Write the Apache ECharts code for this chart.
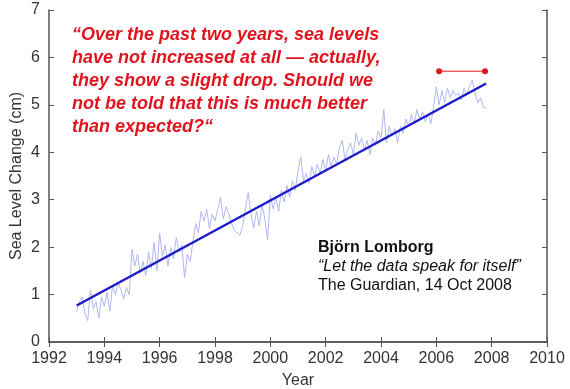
<!DOCTYPE html>
<html><head><meta charset="utf-8">
<script src="https://cdn.jsdelivr.net/npm/echarts@6/dist/echarts.min.js"></script>
<style>html,body{margin:0;padding:0;background:#fff}#c{width:570px;height:389px}</style>
</head><body><div id="c"></div>
<script>
const xTicks = [1992, 1994, 1996, 1998, 2000, 2002, 2004, 2006, 2008, 2010];
const yTicks = [0, 1, 2, 3, 4, 5, 6, 7];
const years = [1993.0,1993.1,1993.2,1993.3,1993.4,1993.5,1993.6,1993.7,1993.8,1993.9,
1994.0,1994.1,1994.2,1994.3,1994.4,1994.5,1994.6,1994.7,1994.8,1994.9,
1995.0,1995.1,1995.2,1995.3,1995.4,1995.5,1995.6,1995.7,1995.8,1995.9,
1996.0,1996.1,1996.2,1996.3,1996.4,1996.5,1996.6,1996.7,1996.8,1996.9,
1997.0,1997.1,1997.2,1997.3,1997.4,1997.5,1997.6,1997.7,1997.8,1997.9,
1998.0,1998.1,1998.2,1998.3,1998.4,1998.5,1998.6,1998.7,1998.8,1998.9,
1999.0,1999.1,1999.2,1999.3,1999.4,1999.5,1999.6,1999.7,1999.8,1999.9,
2000.0,2000.1,2000.2,2000.3,2000.4,2000.5,2000.6,2000.7,2000.8,2000.9,
2001.0,2001.1,2001.2,2001.3,2001.4,2001.5,2001.6,2001.7,2001.8,2001.9,
2002.0,2002.1,2002.2,2002.3,2002.4,2002.5,2002.6,2002.7,2002.8,2002.9,
2003.0,2003.1,2003.2,2003.3,2003.4,2003.5,2003.6,2003.7,2003.8,2003.9,
2004.0,2004.1,2004.2,2004.3,2004.4,2004.5,2004.6,2004.7,2004.8,2004.9,
2005.0,2005.1,2005.2,2005.3,2005.4,2005.5,2005.6,2005.7,2005.8,2005.9,
2006.0,2006.1,2006.2,2006.3,2006.4,2006.5,2006.6,2006.7,2006.8,2006.9,
2007.0,2007.1,2007.2,2007.3,2007.4,2007.5,2007.6,2007.7,2007.8];
const seaLevel = [0.64,0.85,0.95,0.60,0.45,1.10,0.70,0.85,0.50,0.95,
0.75,1.05,0.65,1.20,1.00,1.25,1.10,0.90,1.15,1.00,
1.95,1.60,1.85,1.45,1.70,1.40,1.90,1.55,2.10,1.50,
2.30,1.80,2.05,1.60,2.00,1.75,2.20,1.90,2.05,1.35,
1.85,1.70,2.10,2.50,2.30,2.75,2.55,2.80,2.40,2.70,
2.55,2.80,3.05,2.60,2.85,2.70,2.50,2.35,2.30,2.25,
2.45,2.80,3.15,2.70,2.40,2.75,2.45,2.90,2.60,2.15,
3.10,2.80,3.05,2.75,3.20,2.95,3.30,3.05,3.40,3.20,
3.60,3.90,3.40,3.55,3.35,3.70,3.50,3.75,3.55,3.85,
3.60,3.95,3.70,3.90,3.75,4.10,4.25,3.85,4.05,4.20,
3.95,4.40,4.15,4.30,4.05,4.25,3.95,4.30,4.15,4.45,
4.30,4.90,4.20,4.55,4.35,4.50,4.20,4.55,4.40,4.70,
4.55,4.80,4.60,4.90,4.70,4.85,4.65,4.80,4.60,4.95,
5.38,5.00,5.30,5.05,5.35,5.15,5.30,5.20,5.25,5.10,
5.35,5.20,5.40,5.52,5.25,5.04,5.15,4.95,4.93];
const trendYears = [1993.0, 2007.8];
const trendValues = [0.77, 5.45];
const flatYears = [2006.1, 2007.76];
const flatValues = [5.71, 5.71];

const chart = echarts.init(document.getElementById('c'));
const axisCol = '#555';
const FF = '"Liberation Sans", Arial, sans-serif';
const lbl = {color:'#333', fontSize:16, fontFamily:FF};
const zip = (a,b)=>a.map((v,i)=>[v,b[i]]);
chart.setOption({
  animation:false,
  grid:{left:49, top:10, right:23, bottom:47, containLabel:false, outerBoundsMode:'none'},
  xAxis:[{type:'value', min:xTicks[0], max:xTicks[xTicks.length-1], interval:2,
    name:'Year', nameLocation:'middle', nameGap:31, nameTextStyle:{color:'#333',fontSize:16,fontFamily:FF},
    axisLine:{lineStyle:{color:axisCol,width:1.5}}, axisTick:{inside:true,length:5,lineStyle:{color:axisCol}},
    axisLabel:Object.assign({margin:9, formatter:v=>String(v)}, lbl), splitLine:{show:false}},
   {type:'value', position:'top', min:xTicks[0], max:xTicks[xTicks.length-1], interval:2,
    axisLine:{lineStyle:{color:axisCol,width:1.5}}, axisTick:{inside:true,length:5,lineStyle:{color:axisCol}},
    axisLabel:{show:false}, splitLine:{show:false}}],
  yAxis:[{type:'value', min:yTicks[0], max:yTicks[yTicks.length-1], interval:1,
    name:'Sea Level Change (cm)', nameLocation:'middle', nameGap:24, nameMoveOverlap:false, nameTextStyle:{color:'#333',fontSize:16,fontFamily:FF},
    axisLine:{show:true,lineStyle:{color:axisCol,width:1.5}}, axisTick:{show:true,inside:true,length:5,lineStyle:{color:axisCol}},
    axisLabel:Object.assign({margin:9}, lbl), splitLine:{show:false}},
   {type:'value', position:'right', min:yTicks[0], max:yTicks[yTicks.length-1], interval:1,
    axisLine:{show:true,lineStyle:{color:axisCol,width:1.5}}, axisTick:{show:true,inside:true,length:5,lineStyle:{color:axisCol}},
    axisLabel:{show:false}, splitLine:{show:false}}],
  series:[
    {type:'line', data:zip(years,seaLevel), showSymbol:false, lineStyle:{color:'#b0b6f2',width:1}, z:1},
    {type:'line', data:zip(trendYears,trendValues), showSymbol:false, lineStyle:{color:'#1c1cc8',width:2.5}, z:2},
    {type:'line', data:zip(flatYears,flatValues), symbol:'circle', symbolSize:6, itemStyle:{color:'#e01818'}, lineStyle:{color:'#e01818',width:1}, z:3}
  ],
  graphic:[
    {type:'text', left:72, top:24, style:{text:'“Over the past two years, sea levels\nhave not increased at all — actually,\nthey show a slight drop. Should we\nnot be told that this is much better\nthan expected?“',
      fill:'#e0141e', font:'italic bold 18px '+FF, lineHeight:23}},
    {type:'text', x:318, y:248, style:{text:'Björn Lomborg', fill:'#111', font:'bold 16px '+FF, verticalAlign:'middle'}},
    {type:'text', x:318, y:267, style:{text:'“Let the data speak for itself”', fill:'#111', font:'italic 16px '+FF, verticalAlign:'middle'}},
    {type:'text', x:318, y:286, style:{text:'The Guardian, 14 Oct 2008', fill:'#111', font:'16px '+FF, verticalAlign:'middle'}}
  ]
});
</script></body></html>
